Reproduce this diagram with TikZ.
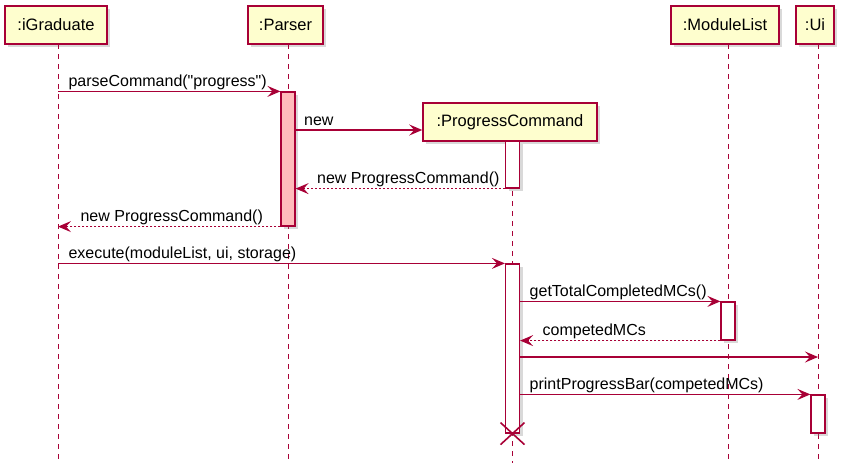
\documentclass[tikz,border=0pt]{standalone}
\usepackage{fontspec}
\setmainfont{Liberation Sans}
\newfontfamily\umlfont{Liberation Sans}
\usepackage{xcolor}
\usetikzlibrary{arrows.meta,shadows,calc}

\definecolor{umlred}{HTML}{A80036}
\definecolor{umlbox}{HTML}{FEFECE}
\definecolor{umlpink}{HTML}{FFBBBB}

\begin{document}
\begin{tikzpicture}[
    x=1pt, y=-1pt,
    participant/.style={rectangle, draw=umlred, fill=umlbox, line width=1.5pt, minimum height=38pt, inner sep=0pt, font=\umlfont\fontsize{16.5}{18}\selectfont, drop shadow={shadow xshift=3pt, shadow yshift=-3pt, opacity=0.3}},
    activation/.style={rectangle, draw=umlred, fill=white, line width=1.2pt, minimum width=14pt, inner sep=0pt, drop shadow={shadow xshift=3pt, shadow yshift=-3pt, opacity=0.3}},
    lifeline/.style={draw=umlred, line width=1pt, dash pattern=on 5pt off 5pt},
    msg/.style={draw=umlred, line width=1.2pt, -{Stealth[length=13pt, width=11pt, inset=5pt]}},
    ret/.style={msg, dash pattern=on 2pt off 2pt},
    lbl/.style={inner sep=0pt, anchor=base west, font=\umlfont\fontsize{16}{18}\selectfont}
]
\useasboundingbox (0,0) rectangle (850,463);

% Participants
\node[participant, minimum width=102pt] (igrad) at (56,25) {:iGraduate};
\node[participant, minimum width=75pt] (parser) at (285.5,25) {:Parser};
\node[participant, minimum width=108pt] (mlist) at (725,25) {:ModuleList};
\node[participant, minimum width=38pt] (ui) at (815,25) {:Ui};
\node[participant, minimum width=174pt] (pcmd) at (510,122) {:ProgressCommand};

% Lifelines
\draw[lifeline] (58,44) -- (58,463);
\draw[lifeline] (288,44) -- (288,463);
\draw[lifeline] (512.5,141) -- (512.5,463);
\draw[lifeline] (728,44) -- (728,463);
\draw[lifeline] (818,44) -- (818,463);
\coordinate (igradL) at (58,0);
\coordinate (uiMsg) at (818,357);

% Activations
\node[activation, fill=umlpink, minimum height=134pt] (parserAct) at (288,159) {};
\node[activation, minimum height=47pt] (pcAct1) at (512.5,164.5) {};
\node[activation, minimum height=169pt] (pcAct2) at (512.5,348.5) {};
\node[activation, minimum height=38pt] (mlAct) at (728,321) {};
\node[activation, minimum height=38pt] (uiAct) at (818,414) {};

% Messages
\draw[msg] (igradL |- parserAct.north west) -- (parserAct.north west)
    node[lbl, at start, xshift=10pt, yshift=5pt] {parseCommand("progress")};
\draw[msg] (parserAct.east |- 0,130) -- (pcmd.west |- 0,130)
    node[lbl, at start, xshift=8pt, yshift=5pt] {new};
\draw[ret] (pcAct1.south west) -- (parserAct.east |- pcAct1.south west)
    node[lbl, at end, xshift=21pt, yshift=5pt] {new ProgressCommand()};
\draw[ret] (parserAct.south west) -- (igradL |- parserAct.south west)
    node[lbl, at end, xshift=22pt, yshift=5pt] {new ProgressCommand()};
\draw[msg] (igradL |- pcAct2.north west) -- (pcAct2.north west)
    node[lbl, at start, xshift=10pt, yshift=5pt] {execute(moduleList, ui, storage)};
\draw[msg] (pcAct2.east |- mlAct.north west) -- (mlAct.north west)
    node[lbl, at start, xshift=9pt, yshift=5pt] {getTotalCompletedMCs()};
\draw[ret] (mlAct.south west) -- (pcAct2.east |- mlAct.south west)
    node[lbl, at end, xshift=22pt, yshift=5pt] {competedMCs};
\draw[msg] (pcAct2.east |- uiMsg) -- (uiMsg);
\draw[msg] (pcAct2.east |- uiAct.north west) -- (uiAct.north west)
    node[lbl, at start, xshift=9pt, yshift=5pt] {printProgressBar(competedMCs)};

% Destroy
\draw[umlred, line width=1.6pt] ($(pcAct2.south)+(-12,-11)$) -- ($(pcAct2.south)+(12,11)$)
    ($(pcAct2.south)+(-12,11)$) -- ($(pcAct2.south)+(12,-11)$);

\end{tikzpicture}
\end{document}
